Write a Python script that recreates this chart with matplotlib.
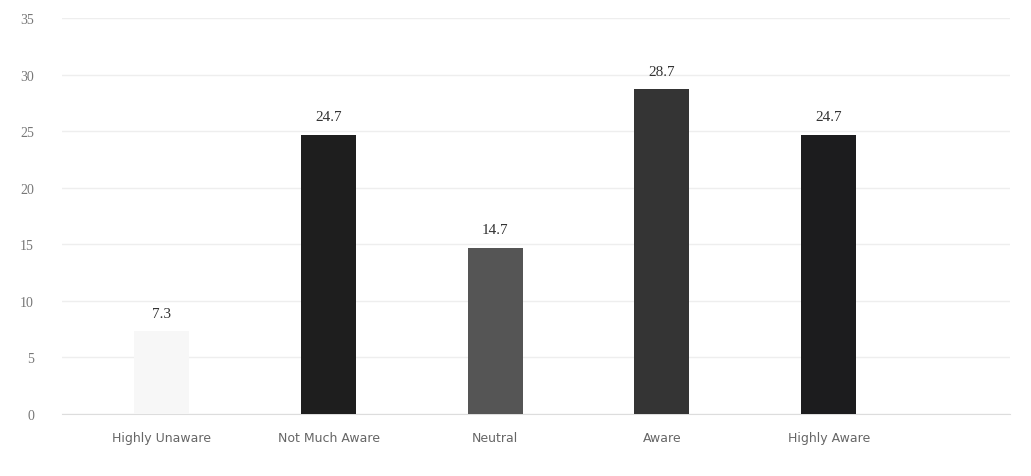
import matplotlib
matplotlib.use("Agg")
import matplotlib.pyplot as plt
import numpy as np

categories = ["Highly Unaware", "Not Much Aware", "Neutral", "Aware", "Highly Aware"]
values = [7.3, 24.7, 14.7, 28.7, 24.7]
value_labels = ["7.3", "24.7", "14.7", "28.7", "24.7"]
bar_colors = ["#f7f7f7", "#1e1e1e", "#555555", "#343434", "#1c1c1e"]
yticks = [0, 5, 10, 15, 20, 25, 30, 35]

fig = plt.figure(figsize=(10.31, 4.77), dpi=100)
ax = fig.add_axes([0.06, 0.13, 0.92, 0.83])

x = np.arange(len(categories))
ax.bar(x, values, width=0.33, color=bar_colors, zorder=3)

for xi, v, lab in zip(x, values, value_labels):
    ax.text(xi, v + 1.0, lab, ha="center", va="bottom", fontsize=11,
            family="Liberation Serif", color="#333333")

ax.set_ylim(0, 35)
ax.set_xlim(-0.6, 5.09)
ax.set_yticks(yticks)
ax.set_yticklabels([str(t) for t in yticks], family="Liberation Serif",
                   fontsize=10, color="#777777")
ax.set_xticks(x)
ax.set_xticklabels(categories, fontsize=9, color="#666666")
ax.tick_params(axis="both", length=0, pad=12)
ax.tick_params(axis="y", pad=20)

ax.grid(axis="y", color="#eeeeee", linewidth=1, zorder=0)
for s in ["top", "right", "left"]:
    ax.spines[s].set_visible(False)
ax.spines["bottom"].set_color("#dddddd")

fig.savefig("out.png", dpi=100)
